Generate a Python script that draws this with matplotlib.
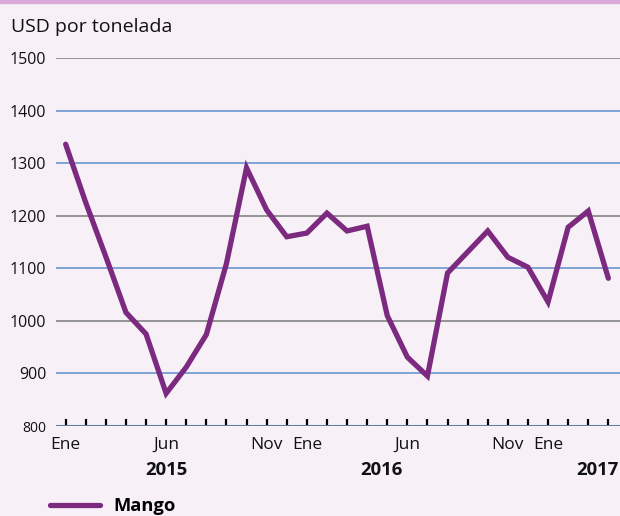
import matplotlib
matplotlib.use("Agg")
import matplotlib.pyplot as plt
from matplotlib.patches import Rectangle
import matplotlib.transforms as mtransforms

# monthly mango prices, Ene 2015 .. Abr 2017
months = ["Ene", "Feb", "Mar", "Abr", "May", "Jun", "Jul", "Ago", "Sep", "Oct", "Nov", "Dic"] * 2 + ["Ene", "Feb", "Mar", "Abr"]
mango = [1336, 1225, 1122, 1016, 975, 862, 912, 974, 1109, 1291, 1211, 1160,
         1167, 1205, 1171, 1180, 1010, 931, 895, 1091, 1131, 1171, 1121, 1102,
         1036, 1178, 1209, 1081]
shown_months = ["Ene", "Jun", "Nov"]
years = ["2015", "2016", "2017"]
year_pos = [5, 15.7, 26.45]
yticks = [800, 900, 1000, 1100, 1200, 1300, 1400, 1500]
grey_lines = [1500, 1200, 1000]

plt.rcParams['font.family'] = ['Open Sans', 'DejaVu Sans']
bg = '#f7f0f7'
purple = '#7b2a7f'

fig = plt.figure(figsize=(6.2, 5.16), dpi=100, facecolor=bg)
fig.patches.append(Rectangle((0, 1 - 3/516), 1, 3/516, transform=fig.transFigure,
                             color='#dcaad8', zorder=0))
ax = fig.add_axes([56/620, 90/516, 564/620, 368/516])
ax.set_facecolor(bg)

x = list(range(len(mango)))
ax.set_xlim(-0.48, 27.58)
ax.set_ylim(800, 1500)

for v in yticks[1:]:
    c = '#939393' if v in grey_lines else '#7fa3d6'
    ax.axhline(v, color=c, lw=1.4, zorder=1)
ax.axhline(800, color='#5b7ea6', lw=2.2, zorder=3)

ax.plot(x, mango, color=purple, lw=3.8, solid_joinstyle='miter',
        solid_capstyle='round', zorder=4, label='Mango')

for s in ax.spines.values():
    s.set_visible(False)

ax.set_yticks(yticks)
ax.set_yticklabels([str(v) for v in yticks])
ax.tick_params(axis='y', length=0, pad=7, labelsize=11.5, labelcolor='#111111')
ax.get_yticklabels()[0].set_fontsize(10)

labels = []
for i, m in enumerate(months):
    labels.append(m if (m in shown_months and not (m == "Jun" and i > 20)) else "")
ax.set_xticks(x)
ax.set_xticklabels(labels)
ax.tick_params(axis='x', direction='in', length=5, width=1.6, color='black',
               pad=8, labelsize=12.5, labelcolor='#111111')

trans = mtransforms.blended_transform_factory(ax.transData, fig.transFigure)
for yr, p in zip(years, year_pos):
    ax.text(p, 1 - 470/516, yr, transform=trans, ha='center', va='center',
            fontsize=13.3, fontweight='bold', color='#111111')

fig.text(11/620, 1 - 31.7/516, "USD por tonelada", fontsize=14, color='#111111',
         va='baseline', ha='left')

ax.legend(loc='center left', bbox_to_anchor=(50/620, 1 - 506/516),
          bbox_transform=fig.transFigure, frameon=False, borderpad=0,
          borderaxespad=0, handlelength=2.7, handletextpad=0.75,
          prop={'weight': 'bold', 'size': 13.2})

fig.savefig("out.png", dpi=100, facecolor=bg)
